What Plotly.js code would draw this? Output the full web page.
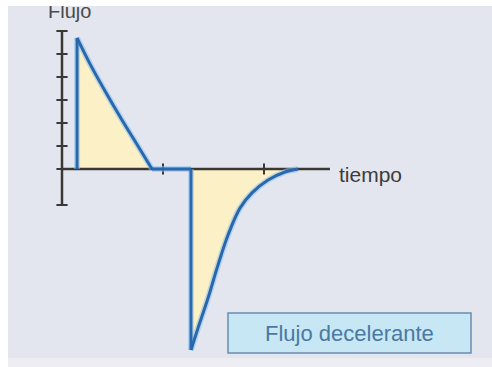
<!DOCTYPE html>
<html>
<head>
<meta charset="utf-8">
<script src="https://cdn.plot.ly/plotly-3.0.1.min.js"></script>
<style>
  html, body { margin: 0; padding: 0; background: #ffffff; width: 492px; height: 367px; overflow: hidden; }
  #frame { position: absolute; left: 8px; top: 6px; width: 484px; height: 352px; overflow: hidden; }
  #strip { position: absolute; left: 8px; top: 358px; width: 484px; height: 9px; background: #eeedf3; }
  #chart { width: 484px; height: 352px; }
</style>
</head>
<body>
<div id="frame"><div id="chart"></div></div>
<div id="strip"></div>
<script>
// Decelerating flow waveform: inspiration (positive) and expiration (negative)
const inspTime  = [0.149, 0.277, 0.426, 0.594, 0.752, 0.891];
const inspFlow  = [5.70, 4.57, 3.39, 2.13, 1.00, 0];
const pauseTime = [0.891, 1.277];
const pauseFlow = [0, 0];
const expTime   = [1.277, 1.347, 1.446, 1.545, 1.644, 1.762, 1.881, 2.040, 2.208, 2.337];
const expFlow   = [-7.87, -6.91, -5.61, -4.17, -2.87, -1.70, -1.04, -0.48, -0.13, 0];

// Axis extents and tick positions
const yAxisSpan  = [-1.565, 6];
const xAxisSpan  = [0, 2.653];
const yTickVals  = [-1.565, 0, 1, 2, 3, 4, 5, 6];
const xTickVals  = [1, 2];

const yLabel   = "Flujo";
const xLabel   = "tiempo";
const boxLabel = "Flujo decelerante";

const W = 484, H = 352;
const fx = p => (p - 8) / W;          // page pixel -> paper x
const fy = p => 1 - (p - 6) / H;      // page pixel -> paper y

const lineBlue = "#2a68ad";
const halo = "rgba(140,195,240,0.55)";
const axisCol = "#3b3833";
const fillCol = "#fcf0c6";
const SMOOTH = 1.0;

const traces = [];

// shaded areas under the curves
traces.push({x: inspTime, y: inspFlow, mode: "lines", fill: "tozeroy", fillcolor: fillCol,
  line: {width: 0, shape: "spline", smoothing: SMOOTH}, hoverinfo: "skip"});
traces.push({x: expTime, y: expFlow, mode: "lines", fill: "tozeroy", fillcolor: fillCol,
  line: {width: 0, shape: "spline", smoothing: SMOOTH}, hoverinfo: "skip"});

// axes
traces.push({x: [0, 0], y: yAxisSpan, mode: "lines", line: {color: axisCol, width: 2.5}, hoverinfo: "skip"});
traces.push({x: xAxisSpan, y: [0, 0], mode: "lines", line: {color: axisCol, width: 2.5}, hoverinfo: "skip"});
traces.push({x: yTickVals.map(() => 0), y: yTickVals, mode: "markers",
  marker: {symbol: "line-ew", size: 8, line: {color: axisCol, width: 2}}, hoverinfo: "skip"});
traces.push({x: xTickVals, y: xTickVals.map(() => 0), mode: "markers",
  marker: {symbol: "line-ns", size: 8, line: {color: axisCol, width: 2}}, hoverinfo: "skip"});

// waveform segments
const segs = [
  {x: [inspTime[0], inspTime[0]], y: [0, inspFlow[0]], shape: "linear"},
  {x: inspTime, y: inspFlow, shape: "spline"},
  {x: pauseTime, y: pauseFlow, shape: "linear"},
  {x: [expTime[0], expTime[0]], y: [0, expFlow[0]], shape: "linear"},
  {x: expTime, y: expFlow, shape: "spline"}
];
[[halo, 6], [lineBlue, 3]].forEach(([c, w]) => {
  segs.forEach(s => traces.push({x: s.x, y: s.y, mode: "lines",
    line: {color: c, width: w, shape: s.shape, smoothing: SMOOTH}, hoverinfo: "skip"}));
});

const layout = {
  width: W, height: H,
  margin: {l: 0, r: 0, t: 0, b: 0},
  paper_bgcolor: "#e3e6ef",
  plot_bgcolor: "#e3e6ef",
  showlegend: false,
  xaxis: {range: [(8 - 62) / 101, (492 - 62) / 101], visible: false, fixedrange: true},
  yaxis: {range: [(169 - 358) / 23, (169 - 6) / 23], visible: false, fixedrange: true},
  shapes: [
    {type: "rect", xref: "paper", yref: "paper", x0: fx(228), x1: fx(471), y0: fy(353), y1: fy(313),
     fillcolor: "#c6e7f3", line: {color: "#6b8db0", width: 1.5}}
  ],
  annotations: [
    {text: yLabel, xref: "paper", yref: "paper", x: fx(46), y: fy(11), xanchor: "left", yanchor: "middle",
     showarrow: false, font: {family: "Liberation Sans, Arial, sans-serif", size: 20, color: "#4a4a4a"}},
    {text: xLabel, xref: "paper", yref: "paper", x: fx(337), y: fy(174), xanchor: "left", yanchor: "middle",
     showarrow: false, font: {family: "Liberation Sans, Arial, sans-serif", size: 21, color: "#3c3c3c"}},
    {text: boxLabel, xref: "paper", yref: "paper", x: fx(349.5), y: fy(333), xanchor: "center", yanchor: "middle",
     showarrow: false, font: {family: "Liberation Sans, Arial, sans-serif", size: 22, color: "#4a79a3"}}
  ]
};

Plotly.newPlot("chart", traces, layout, {staticPlot: true, displayModeBar: false});
</script>
</body>
</html>
